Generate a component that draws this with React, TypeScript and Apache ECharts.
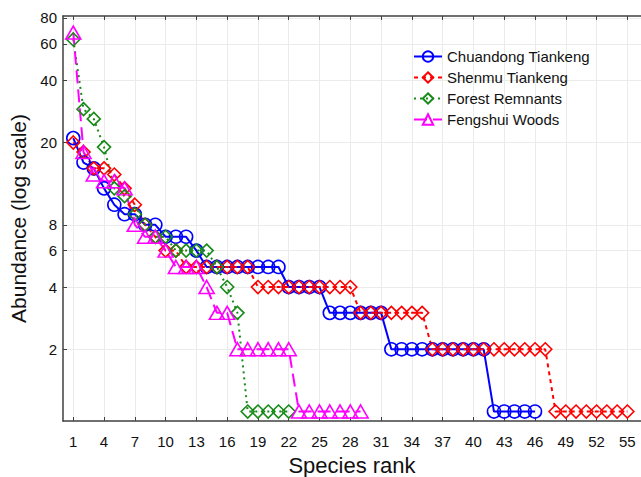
import React, { useEffect, useRef } from "react";
import * as echarts from "echarts";

const seriesNames = ["Chuandong Tiankeng", "Shenmu Tiankeng", "Forest Remnants", "Fengshui Woods"];

const chuandong = [21, 16, 15, 12, 10, 9, 9, 8, 8, 7, 7, 7, 6,
  5, 5, 5, 5, 5, 5, 5, 5,
  4, 4, 4, 4,
  3, 3, 3, 3, 3, 3,
  2, 2, 2, 2, 2, 2, 2, 2, 2, 2,
  1, 1, 1, 1, 1];

const shenmu = [20, 18, 15, 15, 14, 12, 10, 8, 7, 6, 6,
  5, 5, 5, 5, 5, 5, 5,
  4, 4, 4, 4, 4, 4, 4, 4, 4, 4,
  3, 3, 3, 3, 3, 3, 3,
  2, 2, 2, 2, 2, 2, 2, 2, 2, 2, 2, 2,
  1, 1, 1, 1, 1, 1, 1, 1];

const forest = [63, 29, 26, 19, 12, 11, 9, 8, 7, 7, 6, 6, 6, 6, 5, 4, 3, 1, 1, 1, 1, 1];

const fengshui = [68, 18, 14, 13, 13, 12, 8, 7, 7, 6, 5, 5, 5, 4, 3, 3, 2, 2, 2, 2, 2, 2, 1, 1, 1, 1, 1, 1, 1];

const xTicks = [1, 4, 7, 10, 13, 16, 19, 22, 25, 28, 31, 34, 37, 40, 43, 46, 49, 52, 55];
const yTicks = [2, 4, 6, 8, 20, 40, 60, 80];

const toPairs = (vals: number[]) => vals.map((v, i) => [i + 1, v]);

export default function App() {
  const ref = useRef<HTMLDivElement>(null);
  useEffect(() => {
    if (!ref.current) return;
    const chart = echarts.init(ref.current, null, { renderer: "svg" });
    const font = "Liberation Sans";
    const axisColor = "#404040";
    const gridColor = "#ebebeb";
    const mk = (
      name: string,
      data: number[],
      color: string,
      symbol: string,
      size: number | number[],
      type: any,
      width: number
    ) => ({
      name,
      type: "line",
      data: toPairs(data),
      symbol,
      symbolSize: size,
      showAllSymbol: true,
      lineStyle: { color, width, type },
      itemStyle: { color: "transparent", borderColor: color, borderWidth: 1.6 },
      emphasis: { disabled: true },
    });
    chart.setOption({
      animation: false,
      backgroundColor: "#ffffff",
      textStyle: { fontFamily: font },
      grid: { left: 63, top: 16, right: 0, bottom: 56, containLabel: false, outerBoundsMode: "none" },
      legend: {
        orient: "vertical",
        left: 408,
        top: 44,
        itemWidth: 28,
        itemHeight: 13,
        itemGap: 6,
        textStyle: { fontFamily: font, fontSize: 15, color: "#111" },
        data: seriesNames,
      },
      xAxis: [
        {
          type: "value",
          min: 0,
          max: 56.33,
          name: "Species rank",
          nameLocation: "middle",
          nameGap: 33,
          nameTextStyle: { fontFamily: font, fontSize: 22, color: "#111" },
          axisLine: { show: true, lineStyle: { color: axisColor, width: 1.5 } },
          axisTick: { show: true, inside: true, length: 4, customValues: xTicks, lineStyle: { color: axisColor } },
          axisLabel: { customValues: xTicks, margin: 13, fontSize: 15, color: "#111", fontFamily: font },
          splitLine: { show: true, lineStyle: { color: gridColor, width: 1 } },
        },
        {
          type: "value",
          position: "top",
          min: 0,
          max: 56.33,
          axisLine: { show: true, lineStyle: { color: axisColor, width: 1.5 } },
          axisTick: { show: true, inside: true, length: 4, customValues: xTicks, lineStyle: { color: axisColor } },
          axisLabel: { show: false },
          splitLine: { show: false },
        },
      ],
      yAxis: {
        type: "log",
        min: 0.9,
        max: 81.8,
        name: "Abundance (log scale)",
        nameLocation: "middle",
        nameGap: 21,
        nameRotate: 90,
        nameTextStyle: { fontFamily: font, fontSize: 21, color: "#111" },
        axisLine: { show: true, lineStyle: { color: axisColor, width: 1.5 } },
        axisTick: { show: true, inside: true, length: 4, customValues: yTicks, lineStyle: { color: axisColor } },
        axisLabel: {
          customValues: yTicks,
          margin: 6,
          fontSize: 15,
          color: "#111",
          fontFamily: font,
          formatter: (v: number) => String(Math.round(v)),
        },
        splitLine: { show: true, lineStyle: { color: gridColor, width: 1 } },
      },
      series: [
        mk(seriesNames[0], chuandong, "#0000ff", "circle", 13, "solid", 2),
        mk(seriesNames[1], shenmu, "#ff0000", "diamond", 13, [4, 4], 2),
        mk(seriesNames[2], forest, "#178a17", "diamond", 13, [2, 4], 2),
        mk(seriesNames[3], fengshui, "#ff00ff", "triangle", [15, 13], [13, 6], 2),
      ],
    });
    return () => chart.dispose();
  }, []);
  return (
    <div
      ref={ref}
      style={{ position: "absolute", left: 0, top: 0, width: 641, height: 477 }}
    />
  );
}
